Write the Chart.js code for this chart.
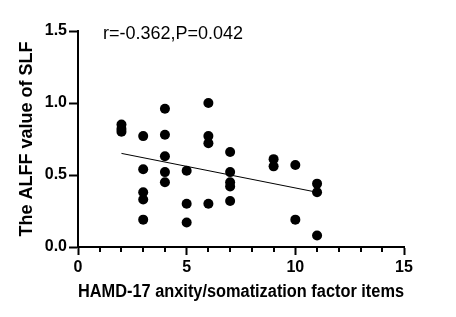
<!DOCTYPE html>
<html>
<head>
<meta charset="utf-8">
<script src="https://cdn.jsdelivr.net/npm/chart.js@4.4.0/dist/chart.umd.min.js"></script>
<style>
  html, body { margin: 0; padding: 0; background: #fff; }
  #wrap { width: 456px; height: 317px; }
</style>
</head>
<body>
<div id="wrap"><canvas id="myChart"></canvas></div>
<script>
// HAMD-17 anxiety/somatization score vs ALFF value of SLF
var scoreX = [2, 2, 2, 3, 3, 3, 3, 3, 4, 4, 4, 4, 4, 5, 5, 5, 6, 6, 6, 6, 7, 7, 7, 7, 7, 9, 9, 10, 10, 11, 11, 11];
var alffY  = [0.85, 0.82, 0.80, 0.77, 0.54, 0.38, 0.33, 0.19, 0.96, 0.78, 0.63, 0.52, 0.45, 0.53, 0.30, 0.17,
              1.00, 0.77, 0.72, 0.30, 0.66, 0.52, 0.45, 0.42, 0.32, 0.61, 0.56, 0.57, 0.19, 0.44, 0.38, 0.08];
var fitX = [2, 11];
var fitY = [0.65, 0.38];
var xTicks = [0, 5, 10, 15];
var yTicks = [0, 0.5, 1.0, 1.5];
var statText = 'r=-0.362,P=0.042';

var points = scoreX.map(function (x, i) { return { x: x, y: alffY[i] }; });
var fitLine = fitX.map(function (x, i) { return { x: x, y: fitY[i] }; });

Chart.defaults.color = '#000';
Chart.defaults.font.family = 'Arial, "Liberation Sans", sans-serif';

// short minor ticks on the x axis + the r/P annotation
var extras = {
    id: 'extras',
    afterDraw: function (chart) {
        var ctx = chart.ctx;
        var xs = chart.scales.x;
        var area = chart.chartArea;
        ctx.save();
        ctx.strokeStyle = '#000';
        ctx.lineWidth = 2;
        for (var v = xs.min; v <= xs.max; v++) {
            if (xTicks.indexOf(v) >= 0) continue;
            var px = Math.round(xs.getPixelForValue(v));
            ctx.beginPath();
            ctx.moveTo(px, area.bottom);
            ctx.lineTo(px, area.bottom + 5);
            ctx.stroke();
        }
        ctx.fillStyle = '#000';
        ctx.font = '18px Arial, "Liberation Sans", sans-serif';
        ctx.textAlign = 'left';
        ctx.textBaseline = 'top';
        ctx.fillText(statText, area.left + 25, area.top - 6);
        ctx.restore();
    }
};

var ctx = document.getElementById('myChart').getContext('2d');
var chart = new Chart(ctx, {
    type: 'scatter',
    data: {
        datasets: [{
                data: points,
                backgroundColor: '#000',
                borderWidth: 0,
                pointRadius: 5,
                pointHoverRadius: 5
        },
            {
                type: 'line',
                data: fitLine,
                borderColor: '#000',
                borderWidth: 1,
                pointRadius: 0,
                fill: false
        }]
    },
    options: {
        responsive: true,
        maintainAspectRatio: false,
        animation: false,
        layout: { padding: { top: 31, right: 52, left: 0, bottom: 0 } },
        plugins: { legend: { display: false }, tooltip: { enabled: false } },
        scales: {
            x: {
                type: 'linear',
                min: 0,
                max: 15,
                afterFit: function (s) { s.height = 70; },
                border: { color: '#000', width: 2 },
                grid: {
                    drawOnChartArea: false,
                    drawTicks: true,
                    tickLength: 8,
                    tickWidth: 2,
                    tickColor: function (c) {
                        return xTicks.indexOf(c.tick.value) >= 0 ? '#000' : 'rgba(0,0,0,0)';
                    }
                },
                ticks: {
                    stepSize: 1,
                    autoSkip: false,
                    maxRotation: 0,
                    padding: 3,
                    font: { size: 16, weight: 'bold' },
                    callback: function (v) { return xTicks.indexOf(v) >= 0 ? String(v) : ''; }
                },
                title: {
                    display: true,
                    text: 'HAMD-17 anxity/somatization factor items',
                    font: { size: 18, weight: 'bold' },
                    padding: { top: 0, bottom: 14 }
                }
            },
            y: {
                min: 0,
                max: 1.5,
                afterFit: function (s) { s.width = 78; },
                border: { color: '#000', width: 2 },
                grid: {
                    drawOnChartArea: false,
                    drawTicks: true,
                    tickLength: 9,
                    tickWidth: 2,
                    tickColor: '#000'
                },
                afterBuildTicks: function (s) {
                    s.ticks = yTicks.map(function (v) { return { value: v }; });
                },
                ticks: {
                    padding: 2,
                    font: { size: 16, weight: 'bold' },
                    callback: function (v) { return Number(v).toFixed(1); }
                },
                title: {
                    display: true,
                    text: 'The ALFF value of SLF',
                    font: { size: 18, weight: 'bold' },
                    padding: { top: 16, bottom: 0 }
                }
            }
        }
    },
    plugins: [extras]
});
</script>
</body>
</html>
